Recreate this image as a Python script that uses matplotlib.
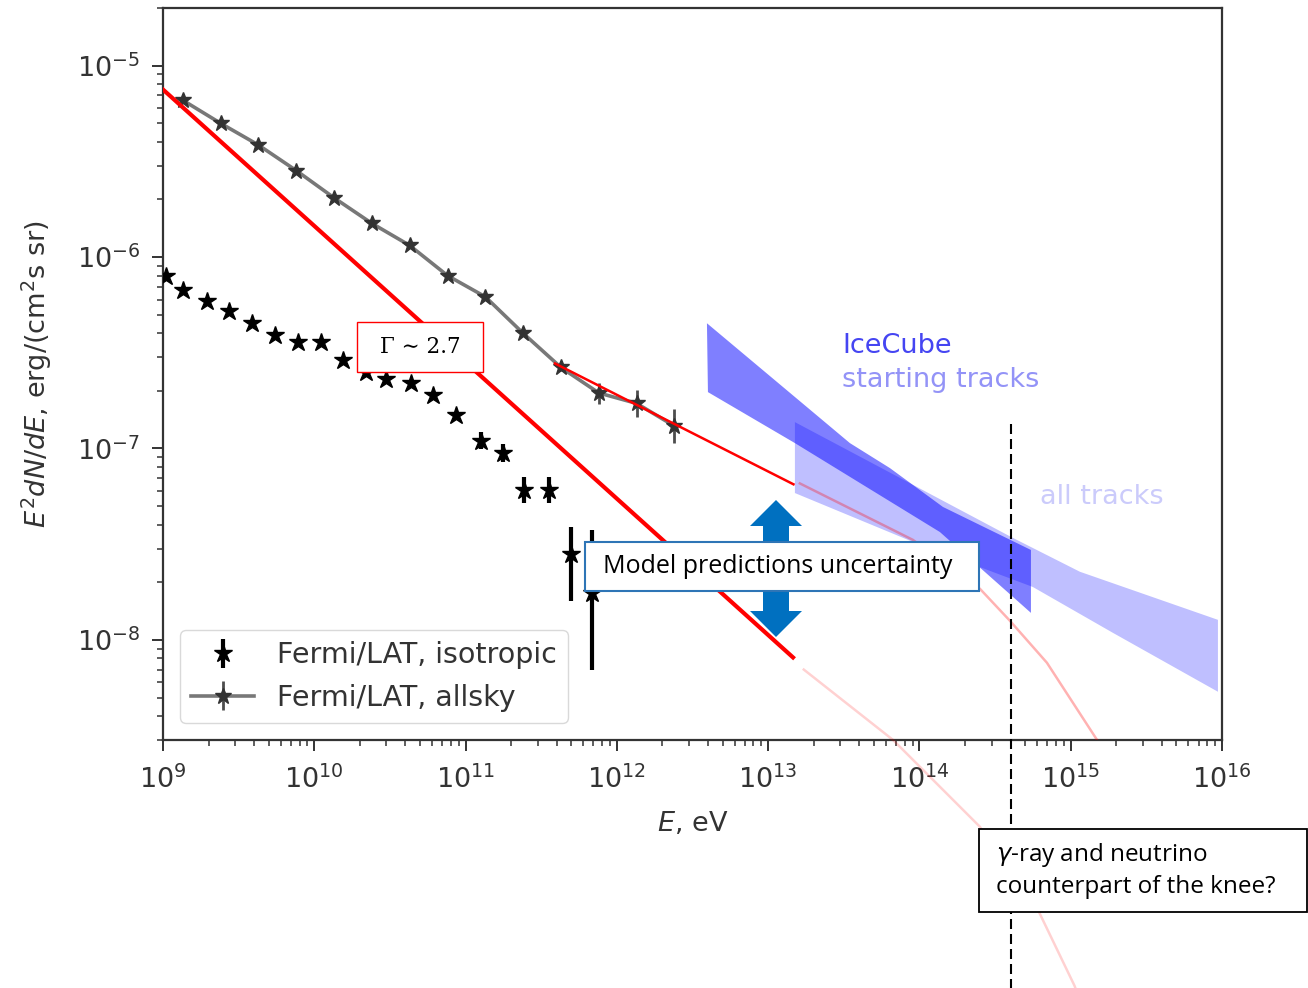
import numpy as np
import matplotlib.pyplot as plt
from matplotlib import patches
from matplotlib.ticker import FixedLocator, LogLocator, NullFormatter

plt.rcParams['font.family'] = ['DejaVu Sans']

# Fermi/LAT isotropic background (E in eV, E^2 dN/dE in erg/(cm^2 s sr))
iso_E = [1.05e9, 1.35e9, 1.95e9, 2.75e9, 3.9e9, 5.5e9, 7.8e9, 1.1e10, 1.55e10, 2.2e10,
         3.0e10, 4.35e10, 6.1e10, 8.7e10, 1.26e11, 1.78e11, 2.45e11, 3.55e11, 5.0e11, 6.9e11]
iso_F = [8.0e-7, 6.7e-7, 5.9e-7, 5.2e-7, 4.5e-7, 3.9e-7, 3.6e-7, 3.6e-7, 2.9e-7, 2.5e-7,
         2.3e-7, 2.2e-7, 1.9e-7, 1.5e-7, 1.1e-7, 9.5e-8, 6.1e-8, 6.1e-8, 2.8e-8, 1.75e-8]
iso_lo = [1.5e-8, 1.2e-8, 1.0e-8, 9e-9, 8e-9, 7e-9, 7e-9, 7e-9, 6e-9, 6e-9,
          6e-9, 6e-9, 6e-9, 6e-9, 1.1e-8, 1.0e-8, 9e-9, 9e-9, 1.2e-8, 1.05e-8]
iso_hi = [1.5e-8, 1.2e-8, 1.0e-8, 9e-9, 8e-9, 7e-9, 7e-9, 7e-9, 6e-9, 6e-9,
          6e-9, 6e-9, 6e-9, 6e-9, 1.2e-8, 1.1e-8, 1.0e-8, 1.0e-8, 1.1e-8, 2.0e-8]

# Fermi/LAT all-sky
sky_E = [1.35e9, 2.4e9, 4.27e9, 7.6e9, 1.35e10, 2.4e10, 4.27e10, 7.6e10, 1.35e11, 2.4e11,
         4.27e11, 7.6e11, 1.35e12, 2.4e12]
sky_F = [6.6e-6, 5.0e-6, 3.85e-6, 2.83e-6, 2.04e-6, 1.5e-6, 1.15e-6, 8.0e-7, 6.2e-7, 4.0e-7,
         2.65e-7, 1.95e-7, 1.72e-7, 1.31e-7]
sky_lo = [1e-7, 8e-8, 6e-8, 4e-8, 3e-8, 2.5e-8, 2e-8, 1.5e-8, 1.2e-8, 1e-8,
          1e-8, 2.4e-8, 2.6e-8, 2.4e-8]
sky_hi = [1e-7, 8e-8, 6e-8, 4e-8, 3e-8, 2.5e-8, 2e-8, 1.5e-8, 1.2e-8, 1e-8,
          1e-8, 2.4e-8, 3.1e-8, 3.0e-8]

# power laws
pl27_E = [1e9, 1.46e13]
pl27_F = [7.5e-6, 8.1e-9]
plsky_E = [3.9e11, 1.47e13]
plsky_F = [2.78e-7, 6.5e-8]

# model extrapolations with cutoff
cut_hi_E = [1.62e13, 9.06e13, 2.51e14, 3.96e14, 6.96e14, 1.49e15, 1.87e15]
cut_hi_F = [6.57e-8, 3.33e-8, 1.85e-8, 1.26e-8, 7.6e-9, 3.01e-9, 2.28e-9]
cut_lo_E = [1.72e13, 6.7e13, 2.5e14, 6.2e14, 1.06e15, 1.3e15]
cut_lo_F = [7.0e-9, 3.0e-9, 1.06e-9, 3.76e-10, 1.56e-10, 1.0e-10]

# IceCube bands
start_E = [3.94e12, 3.47e13, 6.38e13, 1.43e14, 5.46e14,
           5.46e14, 1.366e14, 1.503e13, 4.0e12]
start_F = [4.51e-7, 1.067e-7, 7.9e-8, 4.95e-8, 2.95e-8,
           1.384e-8, 3.66e-8, 1.067e-7, 1.97e-7]
all_E = [1.503e13, 4.15e14, 1.15e15, 9.4e15,
         9.4e15, 1.9e15, 5.62e14, 9.06e13, 1.503e13]
all_F = [1.373e-7, 3.41e-8, 2.27e-8, 1.273e-8,
         5.36e-9, 1.089e-8, 1.89e-8, 3.25e-8, 5.85e-8]

knee_E = 4.0e14

x_ticks = [1e9, 1e10, 1e11, 1e12, 1e13, 1e14, 1e15, 1e16]
y_ticks = [1e-8, 1e-7, 1e-6, 1e-5]

W, H = 1308, 988
fig = plt.figure(figsize=(W / 100, H / 100), dpi=100)
ax = fig.add_axes([163 / W, 1 - 740 / H, (1222 - 163) / W, (740 - 8) / H])
fs = 19.5

ax.fill(start_E, start_F, color='blue', alpha=0.5, lw=0, zorder=1)
ax.fill(all_E, all_F, color='blue', alpha=0.25, lw=0, zorder=1)

ax.errorbar(iso_E, iso_F, yerr=[iso_lo, iso_hi], fmt='*', color='k', ms=13.5,
            elinewidth=3, label='Fermi/LAT, isotropic', zorder=3)
ax.errorbar(sky_E, sky_F, yerr=[sky_lo, sky_hi], color='0.47', lw=2.6, marker='*', ms=12,
            mfc='0.2', mec='0.2', ecolor='0.3', elinewidth=2, label='Fermi/LAT, allsky', zorder=3)

ax.plot(pl27_E, pl27_F, color='red', lw=3, zorder=4)
ax.plot(plsky_E, plsky_F, color='red', lw=1.8, zorder=4)
ax.plot(cut_hi_E, cut_hi_F, color='red', alpha=0.3, lw=1.8, zorder=4)
ax.plot(cut_lo_E, cut_lo_F, color='red', alpha=0.18, lw=1.8, zorder=4, clip_on=False)
ax.axvline(knee_E, ymin=-0.34, ymax=0.434, color='k', lw=1.5, ls=(0, (4.8, 2.4)),
           clip_on=False, zorder=4)

ax.text(3.1e13, 3.42e-7, 'IceCube', color='#4545f2', fontsize=fs, va='center')
ax.text(3.1e13, 2.28e-7, 'starting tracks', color='#9393f7', fontsize=fs, va='center')
ax.text(6.3e14, 5.57e-8, 'all tracks', color='#cbcbfb', fontsize=fs, va='center')

ax.set_xscale('log')
ax.set_yscale('log')
ax.set_xlim(1e9, 1e16)
ax.set_ylim(3e-9, 2e-5)
ax.xaxis.set_major_locator(FixedLocator(x_ticks))
ax.yaxis.set_major_locator(FixedLocator(y_ticks))
for a in (ax.xaxis, ax.yaxis):
    a.set_minor_locator(LogLocator(base=10, subs=np.arange(2, 10), numticks=20))
    a.set_minor_formatter(NullFormatter())
ax.tick_params(which='major', length=8, width=1.4, labelsize=fs, colors='0.2')
ax.tick_params(which='minor', length=4.5, width=1.1, colors='0.2')
ax.tick_params(axis='x', which='major', pad=10)
ax.tick_params(axis='y', which='major', pad=8.5)
for s in ax.spines.values():
    s.set_linewidth(1.6)
    s.set_color('0.2')

ax.set_xlabel(r'$E$, eV', fontsize=fs, color='0.2')
ax.set_ylabel(r'$E^2dN/dE$, erg/(cm$^2$s sr)', fontsize=fs, color='0.2')
ax.xaxis.set_label_coords(0.5, -0.095)
ax.yaxis.set_label_coords(-0.103, 0.5)

leg = ax.legend(loc='lower left', fontsize=20.5, handlelength=2.2, borderaxespad=0.6,
                edgecolor='0.85', framealpha=1)
for t in leg.get_texts():
    t.set_color('0.2')


# overlay annotations (figure pixel layout)
def fx(x):
    return x / W


def fy(y):
    return 1 - y / H


def box(x0, y0, x1, y1, ec, lw, z):
    r = patches.Rectangle((fx(x0), fy(y1)), fx(x1) - fx(x0), fy(y0) - fy(y1),
                          transform=fig.transFigure, fc='white', ec=ec, lw=lw, zorder=z)
    fig.add_artist(r)


box(357, 322, 483, 372, 'red', 1.0, 6)
fig.text(fx(420), fy(347), 'Γ ∼ 2.7', family='DejaVu Serif', fontsize=15.5,
         ha='center', va='center', zorder=7)

arrow = [(776, 500), (802, 526), (789, 526), (789, 611), (802, 611), (776, 637),
         (750, 611), (763, 611), (763, 526), (750, 526)]
fig.add_artist(patches.Polygon([(fx(x), fy(y)) for x, y in arrow], closed=True,
                               transform=fig.transFigure, fc='#0070c0', ec='none', zorder=5))
box(585, 542, 979, 591, '#2e75b6', 1.5, 6)
fig.text(fx(603), fy(566), 'Model predictions uncertainty', family='Open Sans', fontsize=18,
         va='center', zorder=7)

box(979, 829, 1307, 912, 'k', 1.3, 6)
fig.text(fx(996), fy(870), '$\\gamma$-ray and neutrino\ncounterpart of the knee?',
         family='Open Sans', fontsize=17.5, va='center', linespacing=1.35, zorder=7)

fig.savefig('out.png', dpi=100)
